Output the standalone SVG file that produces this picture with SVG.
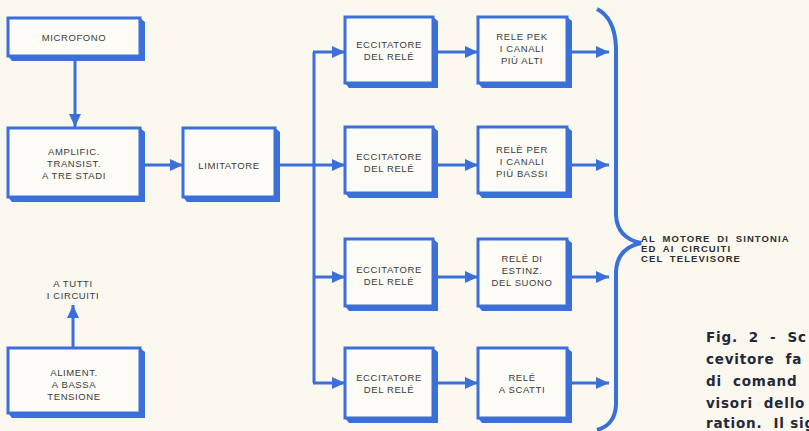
<svg xmlns="http://www.w3.org/2000/svg" width="809" height="431" viewBox="0 0 809 431">
<defs>
<style>
.sh{fill:#3b6fd9}
.bx{fill:#fdfcf7;stroke:#3b6fd9;stroke-width:3}
.t{font-family:"Liberation Sans",Arial,sans-serif;font-size:9.5px;fill:#3a3a3a;text-anchor:middle;letter-spacing:0.6px}
.ln{fill:none;stroke:#3b6fd9;stroke-width:3}
.lbl{font-family:"Liberation Sans",Arial,sans-serif;font-size:9.5px;fill:#2e2e2e;font-weight:bold;letter-spacing:1.1px;word-spacing:3px}
.cap{font-family:"DejaVu Sans",sans-serif;font-size:13.5px;fill:#23283a;font-weight:bold;letter-spacing:0.8px}
</style>
<marker id="ah" markerUnits="userSpaceOnUse" markerWidth="14" markerHeight="12" refX="13" refY="6" orient="auto">
<path d="M0,0 L13,6 L0,12 z" fill="#3b6fd9"/>
</marker>
</defs>
<rect width="809" height="431" fill="#fbf8ef"/>

<g id="connectors">
<path class="ln" d="M75,60 V127" marker-end="url(#ah)"/>
<path class="ln" d="M145,165 H183" marker-end="url(#ah)"/>
<path class="ln" d="M280,165 H314"/>
<path class="ln" d="M314,52 V383"/>
<path class="ln" d="M313,52 H345" marker-end="url(#ah)"/>
<path class="ln" d="M314,165 H345" marker-end="url(#ah)"/>
<path class="ln" d="M313,277 H345" marker-end="url(#ah)"/>
<path class="ln" d="M313,383 H345" marker-end="url(#ah)"/>
<path class="ln" d="M438,52 H478" marker-end="url(#ah)"/>
<path class="ln" d="M438,165 H478" marker-end="url(#ah)"/>
<path class="ln" d="M438,277 H478" marker-end="url(#ah)"/>
<path class="ln" d="M438,383 H478" marker-end="url(#ah)"/>
<path class="ln" d="M572,52 H609" marker-end="url(#ah)"/>
<path class="ln" d="M572,165 H609" marker-end="url(#ah)"/>
<path class="ln" d="M572,277 H609" marker-end="url(#ah)"/>
<path class="ln" d="M572,383 H609" marker-end="url(#ah)"/>
<path class="ln" d="M73,348 V305" marker-end="url(#ah)"/>
<path fill="none" stroke="#3b6fd9" stroke-width="4" d="M597,9 Q615,18 616,48 L616,215 Q617,238 641,243 Q617,248 616,272 L616,405 Q615,425 597,430"/>
</g>

<g id="microfono">
<polygon class="sh" points="140,18 145,22 145,61 12,61 8,56"/>
<rect class="bx" x="8" y="18" width="132" height="38"/>
<text class="t" x="74" y="41">MICROFONO</text>
</g>
<g id="amplific">
<polygon class="sh" points="140,128 145,132 145,202 12,202 8,197"/>
<rect class="bx" x="8" y="128" width="132" height="69"/>
<text class="t" x="74" y="155">AMPLIFIC.</text>
<text class="t" x="74" y="167">TRANSIST.</text>
<text class="t" x="74" y="179">A TRE STADI</text>
</g>
<g id="limitatore">
<polygon class="sh" points="275,128 280,132 280,202 187,202 183,197"/>
<rect class="bx" x="183" y="128" width="92" height="69"/>
<text class="t" x="229" y="169">LIMITATORE</text>
</g>
<g id="aliment">
<polygon class="sh" points="140,348 145,352 145,418 12,418 8,413"/>
<rect class="bx" x="8" y="348" width="132" height="65"/>
<text class="t" x="74" y="376">ALIMENT.</text>
<text class="t" x="74" y="388">A BASSA</text>
<text class="t" x="74" y="400">TENSIONE</text>
</g>
<g id="tutti">
<text class="t" x="73" y="287">A TUTTI</text>
<text class="t" x="73" y="299">I CIRCUITI</text>
</g>

<g id="ecc1">
<polygon class="sh" points="433,17 438,21 438,88 349,88 345,83"/>
<rect class="bx" x="345" y="17" width="88" height="66"/>
<text class="t" x="389" y="48">ECCITATORE</text>
<text class="t" x="389" y="60">DEL RELÉ</text>
</g>
<g id="rele1">
<polygon class="sh" points="567,17 572,21 572,88 482,88 478,83"/>
<rect class="bx" x="478" y="17" width="89" height="66"/>
<text class="t" x="522" y="40">RELE PEK</text>
<text class="t" x="522" y="52">I CANALI</text>
<text class="t" x="522" y="64">PIÙ ALTI</text>
</g>
<g id="ecc2">
<polygon class="sh" points="433,127 438,131 438,198 349,198 345,193"/>
<rect class="bx" x="345" y="127" width="88" height="66"/>
<text class="t" x="389" y="160">ECCITATORE</text>
<text class="t" x="389" y="172">DEL RELÉ</text>
</g>
<g id="rele2">
<polygon class="sh" points="567,127 572,131 572,198 482,198 478,193"/>
<rect class="bx" x="478" y="127" width="89" height="66"/>
<text class="t" x="522" y="153">RELÈ PER</text>
<text class="t" x="522" y="165">I CANALI</text>
<text class="t" x="522" y="177">PIÙ BASSI</text>
</g>
<g id="ecc3">
<polygon class="sh" points="433,239 438,243 438,311 349,311 345,306"/>
<rect class="bx" x="345" y="239" width="88" height="67"/>
<text class="t" x="389" y="273">ECCITATORE</text>
<text class="t" x="389" y="285">DEL RELÉ</text>
</g>
<g id="rele3">
<polygon class="sh" points="567,239 572,243 572,311 482,311 478,306"/>
<rect class="bx" x="478" y="239" width="89" height="67"/>
<text class="t" x="522" y="262">RELÉ DI</text>
<text class="t" x="522" y="274">ESTINZ.</text>
<text class="t" x="522" y="286">DEL SUONO</text>
</g>
<g id="ecc4">
<polygon class="sh" points="433,348 438,352 438,423 349,423 345,418"/>
<rect class="bx" x="345" y="348" width="88" height="70"/>
<text class="t" x="389" y="381">ECCITATORE</text>
<text class="t" x="389" y="393">DEL RELÉ</text>
</g>
<g id="rele4">
<polygon class="sh" points="567,348 572,352 572,423 482,423 478,418"/>
<rect class="bx" x="478" y="348" width="89" height="70"/>
<text class="t" x="522" y="381">RELÉ</text>
<text class="t" x="522" y="393">A SCATTI</text>
</g>

<g id="uscita">
<text class="lbl" x="641" y="242">AL MOTORE DI SINTONIA</text>
<text class="lbl" x="641" y="252">ED AI CIRCUITI</text>
<text class="lbl" x="641" y="262">CEL TELEVISORE</text>
</g>

<g id="didascalia">
<text class="cap" x="706" y="342" xml:space="preserve">Fig.  2  -  Sc</text>
<text class="cap" x="706" y="364" xml:space="preserve">cevitore  fa</text>
<text class="cap" x="706" y="386" xml:space="preserve">di  comand</text>
<text class="cap" x="706" y="408" xml:space="preserve">visori  dello</text>
<text class="cap" x="706" y="428" xml:space="preserve">ration.  Il sig</text>
</g>
</svg>
